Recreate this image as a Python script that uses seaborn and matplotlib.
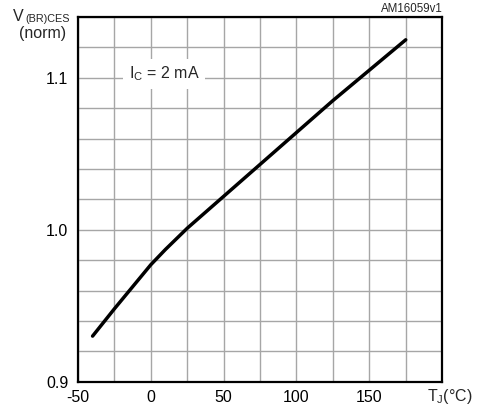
import numpy as np
import pandas as pd
import seaborn as sns
from matplotlib import pyplot as plt

# Curve (junction temperature vs normalised V(BR)CES)
tj = [-40, -25, 0, 10, 25, 50, 75, 100, 125, 150, 175]
v_norm = [0.930, 0.948, 0.977, 0.987, 1.001, 1.022, 1.043, 1.064, 1.085, 1.105, 1.125]

x_ticks = [-50, 0, 50, 100, 150]
x_labels = ['-50', '0', '50', '100', '150']
y_ticks = [0.9, 1.0, 1.1]
y_labels = ['0.9', '1.0', '1.1']

df = pd.DataFrame({'tj': tj, 'v': v_norm})

sns.set_style('white')
plt.rcParams['font.family'] = ['Liberation Sans', 'DejaVu Sans']
plt.rcParams['mathtext.fontset'] = 'custom'
plt.rcParams['mathtext.rm'] = 'Liberation Sans'
plt.rcParams['mathtext.it'] = 'Liberation Sans'

fig = plt.figure(figsize=(4.81, 4.11), dpi=100)
ax = fig.add_axes([0.1622, 0.0713, 0.757, 0.8873])

sns.lineplot(data=df, x='tj', y='v', color='black', linewidth=2.5, ax=ax, zorder=3)

ax.set_xlim(-50, 200)
ax.set_ylim(0.9, 1.14)

# grid: every 25 degC and every 0.02
ax.set_xticks(np.arange(-50, 201, 25), minor=True)
ax.set_yticks(np.arange(0.9, 1.141, 0.02), minor=True)
ax.set_xticks(x_ticks)
ax.set_yticks(y_ticks)
ax.grid(which='both', color='#a6a6a6', linewidth=1.0)
ax.set_xticklabels(x_labels)
ax.set_yticklabels(y_labels)
ax.tick_params(which='both', length=0, labelsize=11.5, colors='black')
ax.tick_params(axis='y', pad=7)
ax.tick_params(axis='x', pad=6)

for s in ax.spines.values():
    s.set_color('black')
    s.set_linewidth(1.6)
    s.set_visible(True)

ax.set_xlabel('')
ax.set_ylabel('')

ax.text(9, 1.1025, r'I$_\mathregular{C}$ = 2 mA', ha='center', va='center', fontsize=11.5,
        bbox=dict(facecolor='white', edgecolor='none', pad=4), zorder=4)

# y axis title: V with a small subscript, then (norm)
fig.text(0.027, 0.9496, 'V', ha='left', va='baseline', fontsize=11.5)
fig.text(0.053, 0.9455, '(BR)CES', ha='left', va='baseline', fontsize=7.8)
fig.text(0.0894, 0.919, '(norm)', ha='center', va='center', fontsize=11.5)
fig.text(0.921, 0.963, 'AM16059v1', ha='right', va='bottom', fontsize=8.3)
fig.text(0.935, 0.035, r'T$_\mathregular{J}$(°C)', ha='center', va='center', fontsize=11.5)

plt.savefig('out.png', dpi=100)
plt.close()
